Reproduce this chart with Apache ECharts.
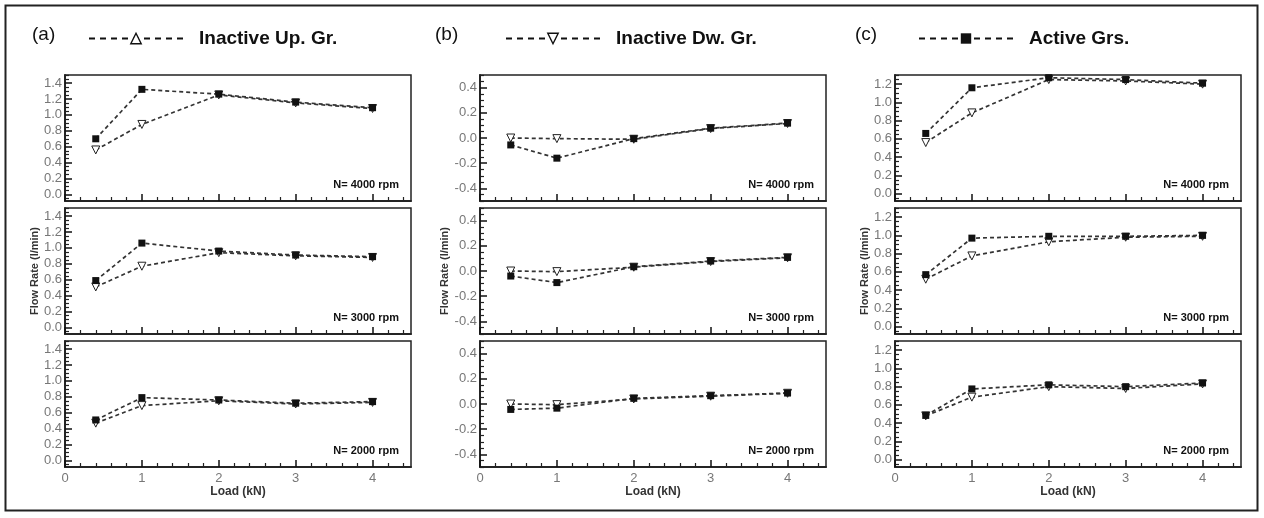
<!DOCTYPE html>
<html><head><meta charset="utf-8">
<script src="https://cdn.jsdelivr.net/npm/echarts@6/dist/echarts.min.js"></script>
<style>html,body{margin:0;padding:0;background:#fff}#c{width:1264px;height:518px}</style>
</head><body><div id="c"></div>
<script>
// ---------- data ----------
const loads = [0.4, 1, 2, 3, 4];
const speeds = ['N= 4000 rpm', 'N= 3000 rpm', 'N= 2000 rpm'];
const columnTags = ['(a)', '(b)', '(c)'];
const legendNames = ['Inactive Up. Gr.', 'Inactive Dw. Gr.', 'Active Grs.'];

// (a)
const a4000Sq  = [0.70, 1.32, 1.26, 1.16, 1.09];
const a4000Tri = [0.56, 0.88, 1.25, 1.15, 1.08];
const a3000Sq  = [0.59, 1.06, 0.96, 0.91, 0.89];
const a3000Tri = [0.51, 0.77, 0.94, 0.90, 0.88];
const a2000Sq  = [0.51, 0.79, 0.76, 0.72, 0.74];
const a2000Tri = [0.47, 0.69, 0.75, 0.71, 0.73];
// (b)
const b4000Sq  = [-0.055, -0.16, -0.005, 0.078, 0.118];
const b4000Tri = [0.0, -0.005, -0.01, 0.075, 0.115];
const b3000Sq  = [-0.04, -0.092, 0.034, 0.079, 0.108];
const b3000Tri = [0.0, -0.005, 0.03, 0.075, 0.105];
const b2000Sq  = [-0.043, -0.033, 0.045, 0.066, 0.087];
const b2000Tri = [0.0, -0.005, 0.04, 0.062, 0.085];
// (c)
const c4000Sq  = [0.66, 1.16, 1.27, 1.25, 1.21];
const c4000Tri = [0.56, 0.885, 1.25, 1.235, 1.20];
const c3000Sq  = [0.57, 0.97, 0.99, 0.99, 1.00];
const c3000Tri = [0.52, 0.775, 0.93, 0.98, 0.99];
const c2000Sq  = [0.485, 0.775, 0.82, 0.80, 0.84];
const c2000Tri = [0.48, 0.685, 0.80, 0.78, 0.83];

// tick labels
const xTicks = [0, 1, 2, 3, 4];
const xMinorTicks = [0.2,0.4,0.6,0.8,1.2,1.4,1.6,1.8,2.2,2.4,2.6,2.8,3.2,3.4,3.6,3.8,4.2,4.4];
const yTicksA = [0, 0.2, 0.4, 0.6, 0.8, 1.0, 1.2, 1.4];
const yTicksB = [-0.4, -0.2, 0, 0.2, 0.4];
const yTicksC = [0, 0.2, 0.4, 0.6, 0.8, 1.0, 1.2];
const yRangeA = [-0.08, 1.5];
const yRangeB = [-0.5, 0.5];
const yRangeC = [-0.08, 1.3];

const panelSq  = [[a4000Sq, a3000Sq, a2000Sq], [b4000Sq, b3000Sq, b2000Sq], [c4000Sq, c3000Sq, c2000Sq]];
const panelTri = [[a4000Tri, a3000Tri, a2000Tri], [b4000Tri, b3000Tri, b2000Tri], [c4000Tri, c3000Tri, c2000Tri]];
const yTicks = [yTicksA, yTicksB, yTicksC];
const yRanges = [yRangeA, yRangeB, yRangeC];

function minorOf(ticks, range, step) {
  const out = [];
  const n0 = Math.ceil(range[0] / step - 1e-9), n1 = Math.floor(range[1] / step + 1e-9);
  for (let n = n0; n <= n1; n++) {
    const v = +(n * step).toFixed(4);
    if (!ticks.some(t => Math.abs(t - v) < 1e-6)) out.push(v);
  }
  return out;
}

// ---------- layout ----------
const colLeft = [65, 480, 895];
const gridW = 346;
const rowTop = [75, 208, 341];
const gridH = 126;
const FONT = 'Liberation Sans, Arial, sans-serif';

const grids = [], xAxes = [], yAxes = [], series = [], graphics = [];
const legends = [], titles = [];
const edge = () => ({ show: true, onZero: false, lineStyle: { color: '#222', width: 1.5 } });

for (let c = 0; c < 3; c++) {
  const ymin = minorOf(yTicks[c], yRanges[c], 0.05);
  for (let r = 0; r < 3; r++) {
    const g = grids.length;
    grids.push({ left: colLeft[c], top: rowTop[r], width: gridW, height: gridH,
      show: true, borderColor: '#222', borderWidth: 1.5 });
    // major x
    xAxes.push({ gridIndex: g, type: 'value', position: 'bottom', min: 0, max: 4.5,
      axisLine: edge(), splitLine: { show: false },
      axisTick: { show: true, inside: true, length: 7, customValues: xTicks, lineStyle: { color: '#111', width: 1.5 } },
      axisLabel: { show: r === 2, customValues: xTicks, color: '#777', fontSize: 13, margin: 5, fontFamily: FONT },
      name: r === 2 ? 'Load (kN)' : '', nameLocation: 'middle', nameGap: 18,
      nameTextStyle: { fontWeight: 'bold', fontSize: 12, color: '#333', fontFamily: FONT }
    });
    // minor x
    xAxes.push({ gridIndex: g, type: 'value', position: 'bottom', min: 0, max: 4.5,
      axisLine: edge(), splitLine: { show: false },
      axisTick: { show: true, inside: true, length: 4, customValues: xMinorTicks, lineStyle: { color: '#222', width: 1.2 } },
      axisLabel: { show: false }
    });
    // major y
    yAxes.push({ gridIndex: g, type: 'value', position: 'left', min: yRanges[c][0], max: yRanges[c][1],
      axisLine: edge(), splitLine: { show: false },
      axisTick: { show: true, inside: true, length: 7, customValues: yTicks[c], lineStyle: { color: '#111', width: 1.5 } },
      axisLabel: { customValues: yTicks[c], color: '#777', fontSize: 13, margin: 3, fontFamily: FONT,
        formatter: v => Number(v).toFixed(1) },
      name: r === 1 ? 'Flow Rate (l/min)' : '', nameLocation: 'middle', nameGap: 25, nameRotate: 90,
      nameTextStyle: { fontWeight: 'bold', fontSize: 11, color: '#333', fontFamily: FONT }
    });
    // minor y
    yAxes.push({ gridIndex: g, type: 'value', position: 'left', min: yRanges[c][0], max: yRanges[c][1],
      axisLine: edge(), splitLine: { show: false },
      axisTick: { show: true, inside: true, length: 4, customValues: ymin, lineStyle: { color: '#222', width: 1.2 } },
      axisLabel: { show: false }
    });

    const lineStyle = { type: [4, 3], width: 1.7, color: '#333' };
    series.push({
      name: columnTags[c] + ' ' + speeds[r] + ' ▽', type: 'line',
      xAxisIndex: 2 * g, yAxisIndex: 2 * g, z: 2,
      data: loads.map((x, i) => [x, panelTri[c][r][i]]),
      symbol: 'triangle', symbolRotate: 180, symbolSize: 8,
      itemStyle: { color: '#fff', borderColor: '#222', borderWidth: 1 },
      lineStyle
    });
    series.push({
      name: columnTags[c] + ' ' + speeds[r] + ' ■', type: 'line',
      xAxisIndex: 2 * g, yAxisIndex: 2 * g, z: 3,
      data: loads.map((x, i) => [x, panelSq[c][r][i]]),
      symbol: 'rect', symbolSize: 7,
      itemStyle: { color: '#111' },
      lineStyle
    });

    graphics.push({ type: 'text', z: 10,
      x: colLeft[c] + gridW - 12, y: rowTop[r] + gridH - 16,
      style: { text: speeds[r], align: 'right', verticalAlign: 'middle',
        font: 'bold 11px ' + FONT, fill: '#111' } });
  }
}

// legend-only series (header keys)
const legendSym = [
  { symbol: 'triangle', rot: 0, item: { color: '#fff', borderColor: '#111', borderWidth: 1.4 } },
  { symbol: 'triangle', rot: 180, item: { color: '#fff', borderColor: '#111', borderWidth: 1.4 } },
  { symbol: 'rect', rot: 0, item: { color: '#111', borderWidth: 0 } }
];
const legendLeft = [88, 505, 918];
const tagLeft = [32, 435, 855];
for (let c = 0; c < 3; c++) {
  series.push({ name: legendNames[c], type: 'line', xAxisIndex: 0, yAxisIndex: 0, data: [],
    symbol: legendSym[c].symbol, symbolRotate: legendSym[c].rot,
    itemStyle: legendSym[c].item,
    lineStyle: { type: [6, 5], width: 2, color: '#111' } });
  legends.push({ data: [legendNames[c]], left: legendLeft[c], top: 29, padding: 0,
    itemWidth: 94, itemHeight: 13, selectedMode: false,
    itemStyle: legendSym[c].item,
    lineStyle: { type: [6, 5], width: 2, color: '#111' },
    textStyle: { fontSize: 19, fontWeight: 'bold', color: '#111', fontFamily: FONT, padding: [0, 0, 0, 11] } });
  titles.push({ text: columnTags[c], left: tagLeft[c], top: 25, padding: 0,
    textStyle: { fontSize: 19, fontWeight: 'normal', color: '#111', fontFamily: FONT } });
}

graphics.push({ type: 'rect', z: -1, silent: true, shape: { x: 5.5, y: 5.5, width: 1252, height: 505 },
  style: { fill: null, stroke: '#222', lineWidth: 2 } });

const chart = echarts.init(document.getElementById('c'), null, { renderer: 'canvas' });
chart.setOption({
  animation: false,
  backgroundColor: '#fff',
  textStyle: { fontFamily: FONT },
  title: titles,
  legend: legends,
  grid: grids,
  xAxis: xAxes,
  yAxis: yAxes,
  series: series,
  graphic: graphics
});
</script>
</body></html>
